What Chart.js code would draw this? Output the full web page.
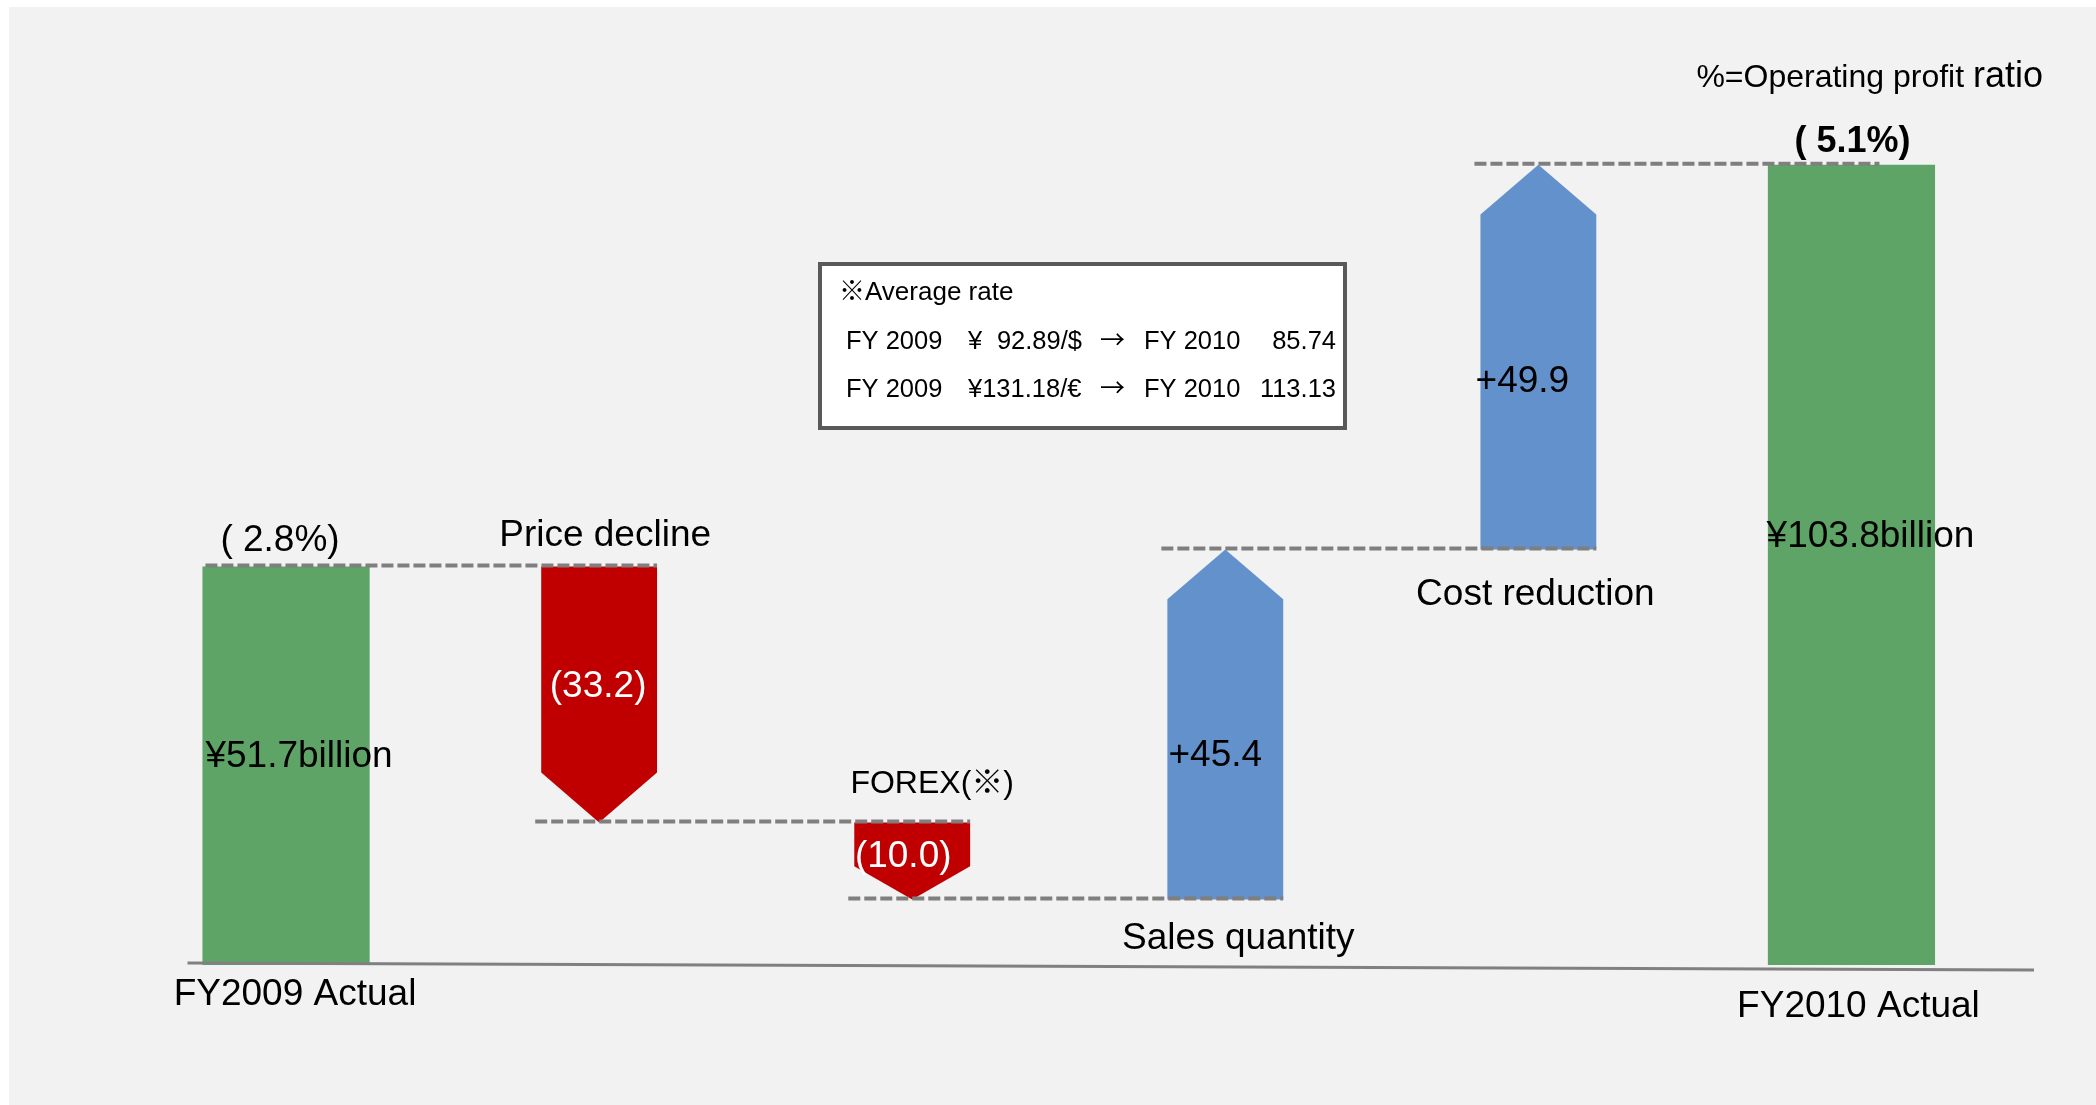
<!DOCTYPE html>
<html>
<head>
<meta charset="utf-8">
<script src="https://cdn.jsdelivr.net/npm/chart.js@4.4.1/dist/chart.umd.min.js"></script>
<style>
  html, body { margin: 0; padding: 0; background: #fff; }
  #wrap { width: 2096px; height: 1105px; position: relative; }
</style>
</head>
<body>
<div id="wrap"><canvas id="bridge-chart"></canvas></div>
<script>
// operating profit bridge FY2009 -> FY2010 (¥ billion)
const categories = ['FY2009 Actual', 'Price decline', 'FOREX(※)', 'Sales quantity', 'Cost reduction', 'FY2010 Actual'];
const changes = [51.7, -33.2, -10.0, 45.4, 49.9, 103.8];
const isTotal = [true, false, false, false, false, true];
const valueLabels = ['¥51.7billion', '(33.2)', '(10.0)', '+45.4', '+49.9', '¥103.8billion'];
const ratioLabels = ['( 2.8%)', '', '', '', '', '( 5.1%)'];
const rateTitle = '※Average rate';
const rateRows = [
  ['FY 2009', '¥', '92.89/$', '→', 'FY 2010', '85.74'],
  ['FY 2009', '¥131.18/€', '', '→', 'FY 2010', '113.13']
];
const ratioNote = ['%=Operating profit ', 'ratio'];

// floating ranges for the waterfall
let running = 0;
const totalBars = [];
const stepBars = [];
const levels = [];
changes.forEach((v, i) => {
  if (isTotal[i]) {
    totalBars.push([0, v]);
    stepBars.push(null);
    running = v;
  } else {
    stepBars.push([running, Math.round((running + v) * 10) / 10]);
    totalBars.push(null);
    running = Math.round((running + v) * 10) / 10;
  }
  levels.push(running);
});

const FONT = '"Liberation Sans", Arial, "Noto Sans CJK JP", sans-serif';
const CJK = '"Noto Sans CJK JP", sans-serif';
const GREEN = '#5ea466';
const RED = '#c00000';
const BLUE = '#6391cb';
const DASH = '#7f7f7f';

// label placement tweaks: [dx, dy] per category
const valueOffset = [[13, 1], [-1, 3], [-9, 6], [-10, 42], [-16, 35], [19, -18]];
const nameOffset = [[9, 40], [6, -20], [20, -29], [13, 50], [-3, 56], [7, 52]];
const nameSize = [37, 37, 32, 37, 37, 37];
const ratioOffset = [[-6, -15], null, null, null, null, [1, -13]];

function text(c, str, x, y, size, opts) {
  opts = opts || {};
  c.font = (opts.bold ? 'bold ' : '') + size + 'px ' + (opts.family || FONT);
  c.fillStyle = opts.color || '#000';
  c.textAlign = opts.align || 'center';
  c.textBaseline = 'alphabetic';
  c.fillText(str, x, y);
}

const bridgePlugin = {
  id: 'bridge',
  beforeDraw(chart) {
    const c = chart.ctx;
    c.save();
    c.fillStyle = '#ffffff';
    c.fillRect(0, 0, chart.width, chart.height);
    c.fillStyle = '#f2f2f2';
    c.fillRect(9, 7, chart.width - 9, chart.height - 7);
    c.restore();
  },
  afterDatasetsDraw(chart) {
    const c = chart.ctx;
    const y = chart.scales.y;
    const area = chart.chartArea;
    const totals = chart.getDatasetMeta(0).data;
    const steps = chart.getDatasetMeta(1).data;
    const el = i => (isTotal[i] ? totals[i] : steps[i]);
    c.save();

    // arrows
    stepBars.forEach((r, i) => {
      if (!r) return;
      const e = steps[i];
      const half = e.width / 2;
      const p0 = y.getPixelForValue(r[0]);
      const p1 = y.getPixelForValue(r[1]);
      const len = Math.abs(p1 - p0);
      const head = 0.43 * Math.min(e.width, len);
      const dir = p1 > p0 ? 1 : -1;
      c.fillStyle = changes[i] < 0 ? RED : BLUE;
      c.beginPath();
      c.moveTo(e.x - half, p0);
      c.lineTo(e.x + half, p0);
      c.lineTo(e.x + half, p1 - dir * head);
      c.lineTo(e.x, p1);
      c.lineTo(e.x - half, p1 - dir * head);
      c.closePath();
      c.fill();
    });

    // axis line
    const zero = y.getPixelForValue(0);
    c.strokeStyle = '#808080';
    c.lineWidth = 3;
    c.beginPath();
    c.moveTo(area.left + 58, zero - 2);
    c.lineTo(area.right + 26, zero + 5);
    c.stroke();

    // dashed connectors
    c.strokeStyle = DASH;
    c.lineWidth = 4;
    c.setLineDash([12, 4]);
    for (let i = 0; i < levels.length - 1; i++) {
      const a = el(i), b = el(i + 1);
      const py = y.getPixelForValue(levels[i]);
      let x0 = a.x - a.width / 2 + (i === 0 ? 3 : -6);
      let x1 = b.x + b.width / 2;
      if (i === levels.length - 2) x1 = b.x + 28;
      c.beginPath();
      c.moveTo(x0, py - 1);
      c.lineTo(x1, py - 1);
      c.stroke();
    }
    c.setLineDash([]);

    // labels
    categories.forEach((name, i) => {
      const e = el(i);
      let lo, hi;
      if (isTotal[i]) { lo = 0; hi = totalBars[i][1]; }
      else { lo = Math.min(...stepBars[i]); hi = Math.max(...stepBars[i]); }
      const pTop = y.getPixelForValue(hi);
      const pBot = y.getPixelForValue(lo);
      const pMid = y.getPixelForValue((hi + lo) / 2);

      const vo = valueOffset[i];
      text(c, valueLabels[i], e.x + vo[0], pMid + vo[1], 37,
        { color: (!isTotal[i] && changes[i] < 0) ? '#ffffff' : '#000' });

      const no = nameOffset[i];
      let ny;
      if (isTotal[i]) ny = zero + no[1];
      else if (no[1] < 0) ny = pTop + no[1];
      else ny = pBot + no[1];
      text(c, name, e.x + no[0], ny, nameSize[i]);

      if (ratioLabels[i]) {
        const bold = i === categories.length - 1;
        const ro = ratioOffset[i];
        text(c, ratioLabels[i], e.x + ro[0], pTop + ro[1], bold ? 36 : 37, { bold: bold });
      }
    });

    // note top right
    c.font = '36px ' + FONT;
    const rw = c.measureText(ratioNote[1]).width;
    text(c, ratioNote[1], 2043, 87, 36, { align: 'right' });
    text(c, ratioNote[0], 2043 - rw, 87, 32, { align: 'right' });

    // exchange rate box
    c.fillStyle = '#ffffff';
    c.fillRect(820, 264, 525, 164);
    c.strokeStyle = '#595959';
    c.lineWidth = 4;
    c.strokeRect(820, 264, 525, 164);
    text(c, rateTitle, 839, 300, 26, { align: 'left' });
    rateRows.forEach((row, k) => {
      const by = 349 + k * 48;
      text(c, row[0], 846, by, 25.5, { align: 'left' });
      text(c, row[1], 968, by, 25.5, { align: 'left' });
      if (row[2]) text(c, row[2], 1082, by, 25.5, { align: 'right' });
      text(c, row[3], 1100, by, 25, { align: 'left', family: CJK });
      text(c, row[4], 1144, by, 25.5, { align: 'left' });
      text(c, row[5], 1336, by, 25.5, { align: 'right' });
    });

    c.restore();
  }
};

const ctx = document.getElementById('bridge-chart');
new Chart(ctx, {
  type: 'bar',
  data: {
    labels: categories,
    datasets: [
      {
        data: totalBars,
        backgroundColor: GREEN,
        barPercentage: 0.534,
        categoryPercentage: 1,
        grouped: false
      },
      {
        data: stepBars,
        backgroundColor: 'rgba(0,0,0,0)',
        barPercentage: 0.37,
        categoryPercentage: 1,
        grouped: false
      }
    ]
  },
  options: {
    responsive: true,
    maintainAspectRatio: false,
    animation: false,
    layout: { padding: { left: 129.5, right: 88, top: 117, bottom: 140 } },
    scales: {
      x: { display: false },
      y: { display: false, min: 0, max: 110 }
    },
    plugins: {
      legend: { display: false },
      tooltip: { enabled: false }
    }
  },
  plugins: [bridgePlugin]
});
</script>
</body>
</html>
